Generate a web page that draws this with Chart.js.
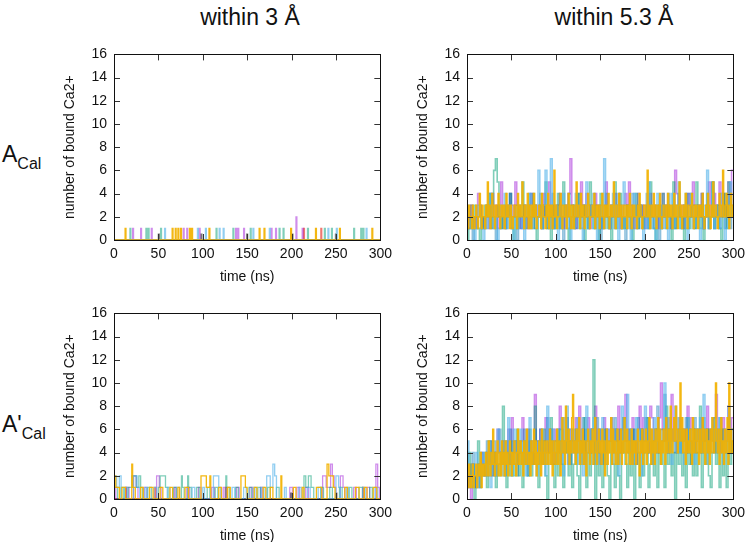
<!DOCTYPE html>
<html><head><meta charset="utf-8">
<script src="https://cdn.jsdelivr.net/npm/chart.js@4.4.1/dist/chart.umd.min.js"></script>
<style>
html,body{margin:0;padding:0;background:#fff;}
body{width:750px;height:542px;position:relative;overflow:hidden;font-family:"Liberation Sans",Arial,sans-serif;color:#111;}
.panel{position:absolute;}
.coltitle{position:absolute;font-size:23px;line-height:26px;transform:translateX(-50%);white-space:nowrap;}
.rowlab{position:absolute;font-size:23px;line-height:23px;white-space:nowrap;}
.rowlab span{font-size:16px;position:relative;top:7px;}
</style></head><body>
<div class="coltitle" style="left:250px;top:4px;">within 3 Å</div>
<div class="coltitle" style="left:614px;top:4px;">within 5.3 Å</div>
<div class="rowlab" style="left:2px;top:143px;">A<span>Cal</span></div>
<div class="rowlab" style="left:2px;top:413px;">A'<span>Cal</span></div>
<div class="panel" style="left:62px;top:39px;"><canvas id="c1" width="336" height="247"></canvas></div>
<div class="panel" style="left:415px;top:39px;"><canvas id="c2" width="336" height="247"></canvas></div>
<div class="panel" style="left:62px;top:298px;"><canvas id="c3" width="336" height="247"></canvas></div>
<div class="panel" style="left:415px;top:298px;"><canvas id="c4" width="336" height="247"></canvas></div>
<script>
// ---------- data ----------
const xTickValues = [0, 50, 100, 150, 200, 250, 300];
const yTickValues = [0, 2, 4, 6, 8, 10, 12, 14, 16];

// A_Cal, within 3 Å: 1-ns binding pulses [time ns, count]
const a3Orange = [[12.5,1],[65.5,1],[69,1],[72,1],[75,1],[85,1],[87.5,1],[107,1],[163.5,1],[169,1],[199,1],[227,1],[254,1],[290.5,1]];
const a3Blue   = [[57,1],[94,1],[103,1],[118.5,1],[123,1],[156.5,1],[175,1],[241,1],[250.5,1],[284,1]];
const a3Teal   = [[18,1],[36,1],[38.5,1],[52.5,1],[115,1],[134,1],[153.5,1],[186,1],[190.5,1],[218,1],[237,1],[245,1],[270,1],[278,1],[280.5,1]];
const a3Purple = [[21,1],[30,1],[42,1],[78,1],[82,1],[96,1],[137,1],[139.5,1],[146,1],[177,1],[182,1],[205,2],[212,1]];
const a3Red    = [[213.5,1],[233,1]];
const a3Gray   = [[50,0.5],[98,0.5],[149.5,0.5],[200.5,0.5],[249.5,0.5]];

// A'_Cal, within 3 Å: change points [time ns, count] (count holds until next point)
const b3Orange = [[0,2],[2,1],[6,0],[9,1],[13,0],[20,3],[21,1],[24,0],[30,1],[33,0],[40,1],[44,0],[52,1],[55,0],[63,1],[66,0],[72,1],[74,0],[80,1],[84,0],[98,2],[104,1],[108,2],[109,0],[118,1],[121,0],[128,1],[131,0],[143,2],[148,1],[150,0],[158,1],[161,0],[168,1],[171,0],[176,1],[179,0],[188,2],[189,0],[202,1],[205,0],[212,1],[214,0],[228,1],[234,0],[240,3],[242,2],[247,1],[249,0],[260,1],[263,0],[272,1],[276,0],[282,1],[285,0],[292,1],[296,0],[300,0]];
const b3Blue   = [[0,2],[3,1],[6,2],[8,0],[12,1],[15,0],[22,2],[26,1],[29,0],[35,1],[37,0],[45,1],[48,0],[60,1],[63,0],[71,1],[74,0],[88,1],[91,0],[100,1],[102,0],[112,2],[118,1],[120,0],[133,1],[136,0],[146,1],[149,0],[157,1],[160,0],[166,1],[169,0],[172,2],[176,1],[179,3],[181,2],[183,0],[192,1],[194,0],[208,1],[211,0],[218,1],[221,0],[230,1],[233,0],[250,2],[253,1],[255,0],[262,1],[264,0],[280,1],[283,0],[294,1],[297,0],[300,0]];
const b3Teal   = [[0,1],[4,0],[8,1],[11,0],[16,1],[20,2],[25,1],[28,2],[30,1],[32,0],[38,1],[42,0],[50,1],[52,2],[58,1],[61,0],[67,1],[70,0],[76,2],[77,1],[79,0],[83,2],[84,1],[87,0],[93,1],[96,0],[105,1],[108,0],[114,1],[117,0],[126,2],[127,1],[130,0],[137,1],[140,0],[152,1],[155,0],[162,1],[165,0],[173,1],[176,0],[183,1],[186,0],[214,2],[216,1],[219,2],[222,1],[225,0],[233,1],[236,0],[243,1],[246,0],[254,1],[257,0],[265,1],[268,0],[276,1],[280,0],[288,1],[291,0],[300,0]];
const b3Purple = [[0,1],[2,0],[14,1],[17,0],[22,2],[25,1],[27,0],[34,1],[37,0],[48,2],[51,1],[53,0],[68,1],[70,0],[82,1],[85,0],[95,1],[98,0],[110,1],[113,0],[123,1],[125,0],[138,1],[141,0],[153,1],[156,0],[165,1],[167,0],[198,1],[201,0],[206,1],[209,0],[216,1],[219,0],[235,2],[239,1],[244,3],[246,2],[248,1],[250,0],[255,2],[258,1],[260,0],[270,1],[273,0],[285,1],[288,0],[295,3],[297,1],[299,0],[300,0]];
const b3Red    = [[0,0],[13,1],[14,0],[46,1],[47,0],[126,1],[127,0],[280,1],[281,0],[300,0]];
const b3Gray   = [[0,0],[199,0.5],[200,0],[250,0.5],[251,0],[300,0]];

// A_Cal, within 5.3 Å: orange sampled every 1 ns, others every 2 ns
const a5Orange = [2,1,3,2,2,1,3,2,1,2, 3,2,1,2,4,2,1,3,2,2, 1,3,2,5,2,3,1,2,4,3, 2,1,3,2,2,4,3,1,2,3, 2,3,1,2,4,2,3,2,1,3, 2,1,2,3,3,2,1,4,2,3, 2,3,5,2,1,3,2,2,4,1, 3,2,1,3,2,4,2,3,1,2, 2,3,2,1,4,3,2,2,1,3, 2,4,1,3,2,3,1,2,6,2,
                  3,1,2,2,3,4,2,1,3,2, 2,3,1,2,4,2,3,1,2,3, 1,2,3,5,2,3,2,1,4,2, 3,2,1,3,2,2,4,3,1,2, 2,3,2,4,1,2,3,2,3,1, 2,3,4,2,1,3,2,3,2,4, 1,2,3,2,3,5,2,1,3,2, 2,4,2,3,1,2,3,2,2,3, 1,3,2,4,2,1,3,2,3,2, 2,1,3,2,4,3,2,1,2,3,
                  3,2,2,6,2,3,1,2,3,2, 4,2,3,1,2,3,2,4,2,1, 2,3,2,2,3,1,4,2,3,2, 3,1,2,4,2,3,2,1,3,5, 2,3,1,2,3,2,4,2,1,3, 2,2,3,4,2,1,3,2,3,2, 1,3,2,3,2,4,2,1,2,3, 2,4,3,2,1,3,2,5,2,3, 3,2,1,2,4,3,2,3,6,2, 2,3,4,2,3,1,2,4,3,2];
const a5Blue   = [3,2,1,2,0,1,3,2,1,0, 2,1,3,4,2,1,2,0,1,3, 2,4,1,2,3,1,0,2,1,3, 2,1,0,3,2,4,1,2,3,1, 6,2,1,3,6,2,1,7,2,1, 3,0,2,1,4,2,1,3,0,2, 1,4,2,3,1,0,2,5,1,2, 3,1,2,0,2,3,1,7,2,3, 1,2,4,1,3,0,2,1,5,2, 1,3,0,2,4,1,2,3,1,0, 2,1,5,3,1,2,0,4,2,1, 3,2,1,0,2,4,1,3,2,5, 1,2,3,1,0,2,4,1,2,3, 2,0,1,3,2,6,1,2,4,1, 3,2,1,4,2,0,1,3,5,2];
const a5Dark   = [2,1,3,0,2,1,2,3,1,2, 1,3,2,4,1,2,0,3,2,1, 2,3,1,2,4,1,2,3,0,2, 1,2,3,1,2,4,2,1,3,2, 2,4,1,3,2,1,3,2,4,1, 2,3,1,2,0,3,2,4,1,2, 3,1,2,4,2,1,3,2,1,3, 2,4,1,2,3,0,2,1,4,2, 1,3,2,1,2,4,3,1,2,0, 3,2,1,4,2,3,1,2,3,1, 2,4,1,3,2,1,3,2,0,2, 1,3,2,4,1,2,3,1,2,4, 2,1,3,2,1,4,2,3,1,2, 3,2,4,1,2,3,1,2,5,1, 2,3,1,2,4,1,3,2,1,2];
const a5Teal   = [0,1,2,1,3,2,1,0,2,1, 3,2,4,1,2,6,7,5,2,1, 2,1,3,2,4,1,0,2,1,3, 2,5,1,2,3,1,2,4,1,0, 2,3,1,2,5,1,2,0,3,1, 2,4,1,3,5,2,1,0,2,3, 1,2,4,1,2,3,0,2,1,5, 2,1,3,2,0,4,1,2,3,1, 2,0,3,5,1,2,4,1,2,1, 3,2,1,0,2,4,1,3,2,1, 2,3,1,5,2,1,0,2,3,1, 4,2,1,3,2,0,5,1,2,3, 1,2,0,4,2,1,3,2,1,5, 2,1,3,0,2,4,1,2,5,1, 2,3,1,0,2,4,1,5,2,3];
const a5Purple = [1,2,3,2,1,2,4,3,2,1, 2,3,1,2,4,2,3,1,2,5, 2,1,3,2,4,3,2,5,3,2, 1,2,3,2,1,3,4,2,3,2, 3,2,1,4,2,3,5,2,1,3, 2,3,4,2,1,3,2,4,7,3, 2,1,3,2,5,3,2,4,2,1, 3,2,4,3,2,1,2,3,5,2, 1,3,2,4,2,3,1,2,3,4, 2,5,3,2,1,2,4,3,2,3, 1,2,3,4,2,3,2,1,3,2, 4,2,3,2,2,1,3,6,4,3, 2,3,1,2,4,3,2,5,3,2, 3,2,4,1,2,3,5,2,3,4, 2,3,5,2,4,3,2,5,3,6];

// A'_Cal, within 5.3 Å: orange sampled every 1 ns, others every 2 ns
const b5Orange = [2,1,3,2,1,2,3,1,2,2, 3,1,2,3,2,4,1,3,2,3, 2,4,3,2,5,3,2,4,3,6, 3,2,4,3,5,2,3,4,2,5, 3,4,2,5,3,4,2,3,5,4, 2,4,3,5,3,2,4,6,3,4, 5,3,4,2,5,4,3,6,4,3, 4,2,5,3,4,6,3,5,2,4, 3,5,4,2,6,3,4,5,3,4, 5,3,4,6,3,5,2,4,5,3,
                  4,6,3,5,4,2,5,7,4,5, 3,8,5,4,6,3,5,4,7,9, 4,5,3,6,4,5,7,3,5,4, 6,3,5,4,2,5,6,4,3,5, 4,6,3,5,7,4,3,5,6,4, 5,3,6,4,5,2,4,6,3,5, 4,5,7,3,6,4,5,3,4,6, 3,5,4,6,3,5,4,7,5,3, 6,4,5,3,4,6,3,5,4,5, 3,5,6,4,2,5,4,6,3,5,
                  4,6,3,5,4,7,5,3,6,4, 5,3,6,4,5,7,4,6,3,5, 4,6,5,3,7,4,5,6,4,8, 5,4,6,7,5,8,6,4,5,6, 10,5,7,4,6,5,3,6,4,5, 4,6,5,3,7,4,6,5,4,6, 5,3,6,4,5,7,4,6,3,5, 6,4,5,3,6,4,7,5,4,6, 10,5,4,6,3,5,7,4,5,3, 6,4,5,7,3,10,4,6,5,4];
const b5Blue   = [5,2,1,3,2,4,1,3,2,4, 3,2,5,1,4,3,2,6,3,4, 2,5,3,7,4,2,6,3,5,4, 6,3,5,2,4,7,3,5,4,2, 5,3,6,4,2,8,5,3,6,4, 3,6,4,7,2,5,8,3,6,4, 5,3,7,4,6,2,5,8,4,6, 4,7,5,3,6,4,7,5,3,6, 5,7,3,6,4,2,5,8,4,6, 9,4,6,3,5,7,4,6,2,5, 8,4,6,5,3,7,4,6,5,4, 5,10,7,4,6,3,5,8,4,6, 4,6,3,5,7,4,6,5,3,6, 5,7,4,9,6,3,5,4,7,5, 6,4,7,5,3,6,4,8,5,6];
const b5Dark   = [1,3,2,4,1,2,3,1,4,2, 3,5,2,4,3,5,2,4,6,3, 4,2,5,3,6,4,3,5,2,4, 5,3,6,4,2,5,4,3,6,5, 3,6,4,5,3,7,4,6,5,3, 4,6,5,3,7,4,6,5,3,6, 5,4,6,3,5,7,4,6,5,4, 6,3,5,7,4,6,5,3,6,4, 5,6,4,7,5,3,6,4,7,5, 4,6,5,3,6,4,7,5,6,4, 5,7,4,6,3,5,6,8,4,6, 5,9,6,4,7,5,6,4,5,7, 4,6,5,7,4,6,3,5,7,4, 6,5,4,7,5,6,4,6,5,4, 6,4,7,5,6,4,5,6,4,6];
const b5Teal   = [2,4,1,3,0,2,5,1,3,2, 4,1,3,5,2,4,1,3,2,4, 8,3,1,4,2,5,2,3,6,2, 4,1,5,3,2,6,2,4,8,3, 1,5,3,6,2,0,4,7,3,1, 5,2,6,3,1,4,7,2,5,1, 3,6,2,0,5,3,7,1,4,2, 6,12,0,5,2,4,1,6,3,2, 0,5,3,1,6,2,0,4,7,3, 1,5,2,6,0,3,4,1,6,2, 4,7,1,3,5,2,6,1,4,3, 5,1,8,3,6,2,4,0,5,3, 6,2,4,1,7,3,5,2,6,2, 4,8,1,5,3,6,2,1,4,7, 3,5,1,6,2,4,1,7,3,5];
const b5Purple = [1,2,0,3,2,1,3,2,4,3, 2,4,3,5,2,4,3,6,4,3, 5,3,4,6,3,7,4,5,3,4, 5,7,4,3,6,4,5,3,9,5, 4,6,3,5,7,4,6,5,3,6, 5,4,8,6,4,5,7,3,6,5, 4,7,5,8,4,6,3,5,7,4, 6,5,8,4,6,3,5,7,4,6, 5,7,4,6,5,8,4,6,7,9, 5,6,4,7,5,3,6,8,4,7, 5,6,4,8,7,5,6,4,7,10, 6,5,7,4,6,9,5,7,4,6, 7,5,6,4,8,5,7,6,4,5, 6,4,7,5,6,8,4,6,5,7, 9,5,6,4,7,5,6,8,5,7];

// ---------- styling ----------
const colors = {
  orange: 'rgba(242,178,0,0.93)',
  lightblue: 'rgba(86,180,233,0.65)',
  darkblue: 'rgba(0,114,178,0.45)',
  teal: 'rgba(0,158,115,0.5)',
  purple: 'rgba(148,0,211,0.45)',
  red: 'rgba(229,30,16,0.6)',
  gray: 'rgba(60,60,60,0.7)'
};

function fromPulses(list) {
  const pts = [{x: 0, y: 0}];
  list.forEach(([t, v]) => { pts.push({x: t, y: v}); pts.push({x: t + 1, y: 0}); });
  pts.push({x: 300, y: 0});
  return pts;
}
function fromChanges(list) {
  return list.map(([t, v]) => ({x: t, y: v}));
}
function fromSamples(arr, dt) {
  const pts = arr.map((v, i) => ({x: i * dt, y: v}));
  pts.push({x: arr.length * dt, y: arr[arr.length - 1]});
  return pts;
}

const framePlugin = {
  id: 'frame',
  afterDatasetsDraw(chart) {
    const {ctx, chartArea: a, scales: {x, y}} = chart;
    ctx.save();
    ctx.strokeStyle = '#333';
    ctx.lineWidth = 1;
    ctx.beginPath();
    xTickValues.forEach(v => {
      const px = Math.round(x.getPixelForValue(v)) + 0.5;
      ctx.moveTo(px, a.bottom); ctx.lineTo(px, a.bottom - 6);
      ctx.moveTo(px, a.top); ctx.lineTo(px, a.top + 6);
    });
    yTickValues.forEach(v => {
      const py = Math.round(y.getPixelForValue(v)) + 0.5;
      ctx.moveTo(a.left, py); ctx.lineTo(a.left + 6, py);
      ctx.moveTo(a.right, py); ctx.lineTo(a.right - 6, py);
    });
    ctx.stroke();
    ctx.strokeStyle = '#111';
    ctx.strokeRect(Math.round(a.left) + 0.5, Math.round(a.top) + 0.5, Math.round(a.right - a.left), Math.round(a.bottom - a.top));
    ctx.restore();
  }
};

Chart.defaults.font.family = '"Liberation Sans", Arial, sans-serif';
Chart.defaults.color = '#111';

function makeChart(id, seriesList, lineW) {
  const datasets = seriesList.map(([name, pts]) => ({
    label: name,
    data: pts,
    stepped: true,
    borderColor: colors[name],
    borderWidth: lineW,
    pointRadius: 0,
    fill: false,
    tension: 0
  }));
  new Chart(document.getElementById(id), {
    type: 'line',
    data: {datasets},
    options: {
      responsive: false,
      animation: false,
      events: [],
      parsing: false,
      layout: {padding: {left: 0, top: 10, right: 14, bottom: 0}},
      plugins: {legend: {display: false}, tooltip: {enabled: false}},
      scales: {
        x: {
          type: 'linear', min: 0, max: 300,
          afterBuildTicks: s => { s.ticks = xTickValues.map(v => ({value: v})); },
          ticks: {font: {size: 14}, padding: 6, maxRotation: 0, autoSkip: false},
          grid: {display: false, drawTicks: false},
          border: {display: false},
          title: {display: true, text: 'time (ns)', font: {size: 14}, padding: 0},
          afterFit: s => { s.height = 46; }
        },
        y: {
          type: 'linear', min: 0, max: 16,
          afterBuildTicks: s => { s.ticks = yTickValues.map(v => ({value: v})); },
          ticks: {font: {size: 14}, padding: 7, autoSkip: false},
          grid: {display: false, drawTicks: false},
          border: {display: false},
          title: {display: true, text: 'number of bound Ca2+', font: {size: 14}, padding: 0},
          afterFit: s => { s.width = 52; }
        }
      }
    },
    plugins: [framePlugin]
  });
}

makeChart('c1', [
  ['orange', fromPulses(a3Orange)], ['lightblue', fromPulses(a3Blue)], ['teal', fromPulses(a3Teal)],
  ['purple', fromPulses(a3Purple)], ['red', fromPulses(a3Red)], ['gray', fromPulses(a3Gray)]
], 1.3);
makeChart('c2', [
  ['orange', fromSamples(a5Orange, 1)], ['lightblue', fromSamples(a5Blue, 2)], ['darkblue', fromSamples(a5Dark, 2)],
  ['teal', fromSamples(a5Teal, 2)], ['purple', fromSamples(a5Purple, 2)]
], 1.6);
makeChart('c3', [
  ['orange', fromChanges(b3Orange)], ['lightblue', fromChanges(b3Blue)], ['teal', fromChanges(b3Teal)],
  ['purple', fromChanges(b3Purple)], ['red', fromChanges(b3Red)], ['gray', fromChanges(b3Gray)]
], 1.3);
makeChart('c4', [
  ['orange', fromSamples(b5Orange, 1)], ['lightblue', fromSamples(b5Blue, 2)], ['darkblue', fromSamples(b5Dark, 2)],
  ['teal', fromSamples(b5Teal, 2)], ['purple', fromSamples(b5Purple, 2)]
], 1.6);
</script>
</body></html>
